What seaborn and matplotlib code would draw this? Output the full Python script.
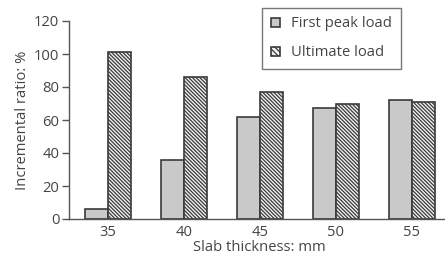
import pandas as pd
import matplotlib.pyplot as plt
import seaborn as sns
from matplotlib.patches import Patch

# Values
thickness = ['35', '40', '45', '50', '55']
first_peak = [6, 36, 62, 67, 72]
ultimate = [101, 86, 77, 70, 71]
series = ['First peak load', 'Ultimate load']

df = pd.DataFrame({
    'thickness': thickness * 2,
    'ratio': first_peak + ultimate,
    'load': [series[0]] * len(thickness) + [series[1]] * len(thickness),
})

sns.set_style('white')
plt.rcParams['font.family'] = ['Open Sans', 'DejaVu Sans']
plt.rcParams['hatch.linewidth'] = 0.9
text_col = '#444444'
edge_col = '#3a3a3a'
fs = 10.6

fig = plt.figure(figsize=(4.45, 2.62), dpi=100)
ax = fig.add_axes([69 / 445, 43 / 262, 381 / 445, 198 / 262])

sns.barplot(data=df, x='thickness', y='ratio', hue='load', hue_order=series,
            palette=['#c9c9c9', '#f2f2f2'], width=0.6, gap=0,
            edgecolor=edge_col, linewidth=1.2, ax=ax, legend=False)

hatches = {series[0]: '', series[1]: '\\' * 9}
n = len(thickness)
for i, bar in enumerate(ax.patches[:2 * n]):
    s = series[i // n]
    bar.set_hatch(hatches[s])
    bar.set_edgecolor(edge_col)

ax.set_xlim(-0.51, 4.5)
ax.set_ylim(0, 120)
ax.set_yticks(range(0, 121, 20))
ax.set_xlabel('Slab thickness: mm', fontsize=fs, color=text_col, labelpad=0)
ax.set_ylabel('Incremental ratio: %', fontsize=fs, color=text_col, labelpad=3)

for side in ['top', 'right']:
    ax.spines[side].set_visible(False)
for side in ['left', 'bottom']:
    ax.spines[side].set_color('#555555')
    ax.spines[side].set_linewidth(1.0)

ax.tick_params(axis='x', which='major', length=0, pad=4, labelsize=fs, labelcolor=text_col)
ax.set_xticks([0.5, 1.5, 2.5, 3.5], minor=True)
ax.tick_params(axis='x', which='minor', direction='inout', length=8, width=1.0, color='#555555')
ax.tick_params(axis='y', direction='out', length=5, width=1.0, color='#555555',
               pad=2, labelsize=fs, labelcolor=text_col, left=True)

handles = [Patch(facecolor='#c9c9c9', edgecolor=edge_col, linewidth=1.2),
           Patch(facecolor='#f2f2f2', edgecolor=edge_col, linewidth=1.2, hatch='\\' * 6)]
leg = ax.legend(handles, series, loc='upper left', bbox_to_anchor=(0.487, 1.105),
                frameon=True, fancybox=False, fontsize=fs, handlelength=0.6,
                handleheight=0.6, handletextpad=0.8, labelspacing=0.95,
                borderpad=0.6, labelcolor=text_col)
leg.get_frame().set_edgecolor('#555555')
leg.get_frame().set_linewidth(1.0)

fig.savefig('out.png', dpi=100)
plt.close()
